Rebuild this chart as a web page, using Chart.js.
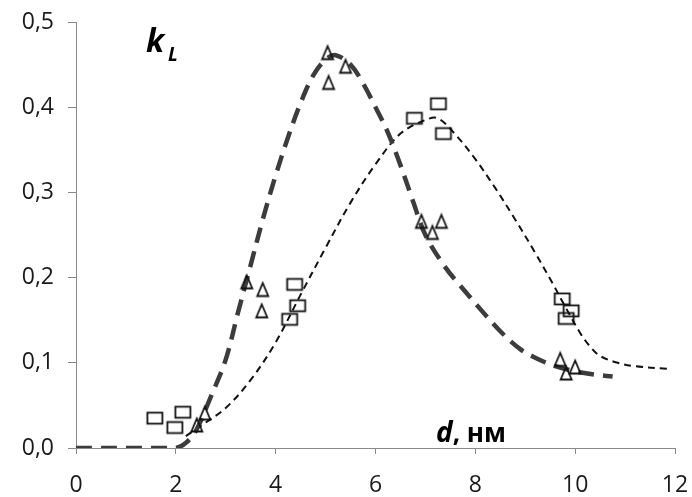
<!DOCTYPE html>
<html>
<head>
<meta charset="utf-8">
<script src="https://cdn.jsdelivr.net/npm/chart.js@4"></script>
<style>
  html, body { margin: 0; padding: 0; background: #fff; }
  #wrap { width: 692px; height: 497px; }
</style>
</head>
<body>
<div id="wrap"><canvas id="c" width="692" height="497"></canvas></div>
<script>
// Measured points: triangles
const triD = [2.42, 2.58, 3.42, 3.72, 3.74, 5.04, 5.06, 5.40, 6.92, 7.14, 7.32, 9.70, 9.82, 10.00];
const triK = [0.027, 0.041, 0.195, 0.161, 0.186, 0.464, 0.429, 0.448, 0.266, 0.253, 0.266, 0.104, 0.088, 0.095];

// Measured points: squares
const sqD = [1.58, 1.98, 2.14, 4.28, 4.38, 4.44, 6.78, 7.26, 7.36, 9.74, 9.82, 9.92];
const sqK = [0.035, 0.024, 0.042, 0.151, 0.192, 0.167, 0.387, 0.404, 0.369, 0.175, 0.152, 0.161];

// Fitted curve through the triangles (thick dashes)
const fitTriD = [0, 0.5, 1, 1.5, 2, 2.2, 2.4, 2.7, 3.0, 3.25, 3.5, 3.75, 4.0, 4.25, 4.5, 4.75, 5.0, 5.2, 5.5, 5.75, 6.0, 6.25, 6.5, 6.75, 7.0, 7.4, 7.75, 8.1, 8.5, 8.9, 9.2, 9.6, 10.0, 10.4, 10.75];
const fitTriK = [0, 0, 0, 0, 0, 0.006, 0.02, 0.06, 0.104, 0.16, 0.215, 0.27, 0.32, 0.365, 0.405, 0.437, 0.456, 0.461, 0.45, 0.428, 0.4, 0.37, 0.332, 0.29, 0.25, 0.212, 0.187, 0.163, 0.137, 0.116, 0.106, 0.096, 0.09, 0.086, 0.084];

// Fitted curve through the squares (thin dashes)
const fitSqD = [2.2, 2.5, 3.0, 3.5, 4.0, 4.5, 5.0, 5.5, 6.0, 6.5, 7.0, 7.25, 7.6, 8.0, 8.4, 8.8, 9.2, 9.55, 9.8, 10.1, 10.3, 10.5, 10.85, 11.2, 11.85];
const fitSqK = [0.014, 0.026, 0.047, 0.08, 0.124, 0.18, 0.235, 0.288, 0.333, 0.369, 0.385, 0.387, 0.368, 0.339, 0.305, 0.268, 0.229, 0.193, 0.166, 0.135, 0.119, 0.108, 0.1, 0.096, 0.093];

// Axis ticks
const xTicks = ['0', '2', '4', '6', '8', '10', '12'];
const yTicks = ['0,0', '0,1', '0,2', '0,3', '0,4', '0,5'];

const pts = (xs, ys) => xs.map((x, i) => ({ x: x, y: ys[i] }));

// Hollow marker shapes
function marker(kind) {
  const c = document.createElement('canvas');
  c.width = 20; c.height = 18;
  const g = c.getContext('2d');
  g.strokeStyle = '#111';
  g.lineWidth = 1.8;
  if (kind === 'rect') {
    g.strokeRect(2.5, 3.5, 15, 11);
  } else {
    g.beginPath();
    g.moveTo(10, 2.5);
    g.lineTo(15.5, 15.5);
    g.lineTo(4.5, 15.5);
    g.closePath();
    g.stroke();
  }
  return c;
}
const triMark = marker('tri');
const sqMark = marker('rect');

const FONT = "'Open Sans', 'Noto Sans', sans-serif";

// Axis captions drawn as text on the canvas
const captions = {
  id: 'captions',
  afterDraw(chart) {
    const g = chart.ctx;
    g.save();
    g.fillStyle = '#000';
    g.textBaseline = 'alphabetic';
    g.font = "italic bold 32px " + FONT;
    g.fillText('k', 146, 52);
    g.font = "italic bold 19px " + FONT;
    g.fillText('L', 168, 61);
    g.font = "italic bold 28px " + FONT;
    g.fillText('d', 436, 442);
    const w = g.measureText('d').width;
    g.font = "bold 26px " + FONT;
    g.fillText(', нм', 436 + w, 442);
    g.restore();
  }
};

new Chart(document.getElementById('c'), {
  type: 'line',
  data: {
    datasets: [
      {
        data: pts(triD, triK),
        showLine: false,
        pointStyle: triMark,
        pointRadius: 8,
        order: 0
      },
      {
        data: pts(sqD, sqK),
        showLine: false,
        pointStyle: sqMark,
        pointRadius: 8,
        order: 0
      },
      {
        data: pts(fitTriD, fitTriK),
        borderColor: '#3c3c3c',
        borderWidth: 4.5,
        borderDash: [16, 9],
        pointRadius: 0,
        tension: 0.35,
        fill: false,
        order: 1
      },
      {
        data: pts(fitSqD, fitSqK),
        borderColor: '#111',
        borderWidth: 2,
        borderDash: [7, 5],
        pointRadius: 0,
        tension: 0.35,
        fill: false,
        order: 1
      }
    ]
  },
  options: {
    responsive: false,
    animation: false,
    devicePixelRatio: 1,
    layout: { padding: { top: 22, right: 17, left: 0, bottom: 0 } },
    plugins: { legend: { display: false }, tooltip: { enabled: false } },
    scales: {
      x: {
        type: 'linear',
        min: 0, max: 12,
        afterFit(s) {
          s.height = 49;
          s.paddingLeft = 0;
          s.paddingRight = 0;
        },
        afterBuildTicks(s) { s.ticks = xTicks.map((t, i) => ({ value: i * 2 })); },
        ticks: {
          callback: (v, i) => xTicks[i],
          font: { family: FONT, size: 23 },
          color: '#1a1a1a',
          padding: 18,
          maxRotation: 0,
          autoSkip: false
        },
        grid: { drawOnChartArea: false, drawTicks: true, tickLength: 6, color: '#8a8a8a' },
        border: { color: '#8a8a8a', width: 1 }
      },
      y: {
        type: 'linear',
        min: 0, max: 0.5,
        afterFit(s) {
          s.width = 76;
          s.paddingTop = 0;
          s.paddingBottom = 0;
        },
        afterBuildTicks(s) { s.ticks = yTicks.map((t, i) => ({ value: i / 10 })); },
        ticks: {
          callback: (v, i) => yTicks[i],
          font: { family: FONT, size: 23 },
          color: '#1a1a1a',
          padding: 14,
          autoSkip: false
        },
        grid: { drawOnChartArea: false, drawTicks: true, tickLength: 8, color: '#8a8a8a' },
        border: { color: '#8a8a8a', width: 1 }
      }
    }
  },
  plugins: [captions]
});
</script>
</body>
</html>
